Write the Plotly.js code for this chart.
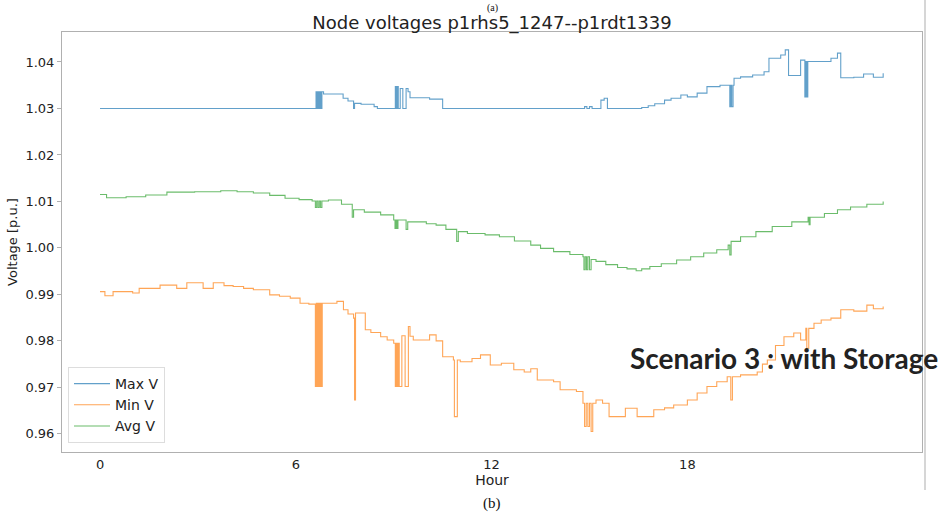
<!DOCTYPE html>
<html>
<head>
<meta charset="utf-8">
<script src="https://cdn.plot.ly/plotly-3.0.1.min.js"></script>
<style>html,body{margin:0;padding:0;background:#fff;}#chart{width:942px;height:512px;}</style>
</head>
<body>
<div id="chart"></div>
<script>
// [hour, voltage p.u.]
const maxV = [
  [0,1.0300],
  [6.62,1.0336],[6.65,1.0300],[6.68,1.0336],[6.71,1.0300],[6.74,1.0336],[6.77,1.0300],[6.80,1.0336],
  [6.85,1.0331],[7.45,1.0322],[7.60,1.0316],[7.77,1.0300],[7.80,1.0311],[8.00,1.0309],[8.40,1.0304],[8.50,1.0300],
  [9.05,1.0347],[9.08,1.0300],[9.11,1.0347],[9.14,1.0300],[9.20,1.0343],[9.28,1.0300],[9.38,1.0343],[9.44,1.0336],[9.50,1.0323],[10.10,1.0320],[10.50,1.0300],
  [14.85,1.0304],[14.92,1.0300],[15.00,1.0304],[15.08,1.0300],[15.35,1.0318],[15.45,1.0322],[15.55,1.0300],
  [16.60,1.0302],[16.80,1.0306],[17.00,1.0310],[17.30,1.0318],[17.50,1.0322],[17.80,1.0329],[18.00,1.0325],[18.30,1.0333],[18.60,1.0347],[19.00,1.0350],
  [19.30,1.0304],[19.33,1.0350],[19.36,1.0304],[19.40,1.0350],[19.43,1.0365],[19.63,1.0368],[20.00,1.0372],[20.35,1.0379],[20.50,1.0408],[20.86,1.0415],[21.00,1.0426],[21.10,1.0371],[21.47,1.0404],
  [21.60,1.0325],[21.63,1.0401],[21.66,1.0325],[21.69,1.0401],[22.40,1.0408],[22.60,1.0419],[22.70,1.0366],[23.10,1.0367],[23.40,1.0374],[23.70,1.0367],[24.00,1.0376]
];
const minV = [
  [0,0.9906],[0.15,0.9897],[0.4,0.9906],[1.0,0.9903],[1.2,0.9913],[1.84,0.9920],[2.35,0.9913],[2.66,0.9925],[3.16,0.9913],[3.47,0.9925],[3.8,0.9919],[4.08,0.9917],[4.4,0.9913],[4.7,0.9910],[5.2,0.9899],[5.5,0.9896],[5.83,0.9892],[6.13,0.9881],[6.4,0.9879],
  [6.60,0.9702],[6.63,0.9881],[6.66,0.9702],[6.69,0.9881],[6.72,0.9702],[6.75,0.9881],[6.78,0.9702],[6.81,0.9881],
  [7.26,0.9885],[7.46,0.9867],[7.6,0.9858],[7.77,0.9849],[7.80,0.9673],[7.83,0.9860],[8.13,0.9824],[8.3,0.9818],[8.6,0.9809],[8.8,0.9802],[9.0,0.9795],
  [9.05,0.9702],[9.08,0.9795],[9.11,0.9702],[9.14,0.9795],[9.17,0.9702],[9.25,0.9811],[9.35,0.9702],[9.45,0.9831],[9.5,0.9810],[9.6,0.9802],[10.1,0.9813],[10.3,0.9800],[10.5,0.9766],[10.83,0.9759],
  [10.86,0.9637],[10.95,0.9759],[11.04,0.9755],[11.4,0.9762],[11.66,0.9770],[11.96,0.9748],[12.3,0.9752],[12.68,0.9738],[13.0,0.9733],[13.2,0.9740],[13.4,0.9716],[13.9,0.9712],[14.1,0.9695],[14.6,0.9691],[14.8,0.9666],
  [14.85,0.9616],[14.9,0.9666],[14.95,0.9616],[15.0,0.9666],[15.05,0.9605],[15.1,0.9666],[15.2,0.9673],[15.4,0.9666],[15.6,0.9637],[16.1,0.9655],[16.46,0.9637],[16.97,0.9652],[17.3,0.9656],[17.58,0.9662],[18.0,0.9673],[18.3,0.9688],[18.6,0.9702],[18.9,0.9712],[19.22,0.9723],
  [19.33,0.9673],[19.38,0.9723],[19.63,0.9727],[20.14,0.9733],[20.3,0.9750],[20.45,0.9759],[20.7,0.9790],[20.96,0.9809],[21.26,0.9817],[21.47,0.9802],[21.63,0.9827],[21.66,0.9784],[21.72,0.9827],[21.88,0.9838],[22.1,0.9845],[22.4,0.9849],[22.7,0.9867],[23.1,0.9864],[23.5,0.9877],[23.7,0.9869],[24.0,0.9874]
];
const avgV = [
  [0,1.0115],[0.2,1.0108],[0.8,1.0110],[1.4,1.0114],[2.05,1.0120],[2.9,1.0121],[3.7,1.0123],[4.2,1.0121],[4.7,1.0118],[5.2,1.0113],[5.67,1.0107],[6.1,1.0104],[6.5,1.0101],
  [6.60,1.0087],[6.64,1.0101],[6.68,1.0087],[6.72,1.0101],[6.76,1.0087],[6.80,1.0101],
  [7.0,1.0103],[7.4,1.0094],[7.73,1.0066],[7.77,1.0082],[8.1,1.0077],[8.6,1.0071],[9.0,1.0060],
  [9.04,1.0042],[9.07,1.0060],[9.10,1.0042],[9.13,1.0060],[9.38,1.0040],[9.43,1.0056],
  [10.0,1.0052],[10.3,1.0049],[10.6,1.0040],[10.93,1.0014],[10.98,1.0035],[11.26,1.0031],[11.8,1.0028],[12.24,1.0024],[12.7,1.0015],[13.2,1.0006],[13.5,0.9999],[13.9,0.9992],[14.4,0.9986],[14.8,0.9981],
  [14.83,0.9953],[14.87,0.9981],[14.91,0.9953],[14.95,0.9981],[15.0,0.9953],[15.05,0.9975],
  [15.2,0.9971],[15.5,0.9964],[15.86,0.9958],[16.15,0.9955],[16.43,0.9951],[16.6,0.9955],[16.85,0.9960],[17.2,0.9966],[17.67,0.9974],[18.1,0.9981],[18.5,0.9989],[18.9,0.9996],[19.25,1.0006],
  [19.30,0.9985],[19.34,1.0014],[19.63,1.0024],[20.1,1.0035],[20.6,1.0046],[21.2,1.0056],[21.7,1.0066],[21.73,1.0050],[21.76,1.0066],[22.2,1.0074],[22.6,1.0082],[23.0,1.0088],[23.5,1.0094],[24.0,1.0100]
];
const seriesNames = ["Max V", "Min V", "Avg V"];
const xTickVals = [0, 6, 12, 18];
const yTickVals = [0.96, 0.97, 0.98, 0.99, 1.00, 1.01, 1.02, 1.03, 1.04];
const yTickText = ["0.96", "0.97", "0.98", "0.99", "1.00", "1.01", "1.02", "1.03", "1.04"];

const colors = ["#1f77b4", "#ff7f0e", "#2ca02c"];
const all = [maxV, minV, avgV];
const traces = all.map((s, i) => ({
  x: s.map(p => p[0]),
  y: s.map(p => p[1]),
  type: "scatter",
  mode: "lines",
  name: seriesNames[i],
  line: {color: colors[i], width: 1.1, shape: "hv"},
  opacity: 0.7
}));

// plot box in pixels
const L = 62, R = 922, T = 32, B = 452, W = 942, H = 512;
const px = x => (x - L) / (R - L);
const py = y => (B - y) / (B - T);
const font = "DejaVu Sans, sans-serif";

const layout = {
  width: W, height: H,
  margin: {l: L, r: W - R, t: T, b: H - B, pad: 0},
  paper_bgcolor: "#ffffff", plot_bgcolor: "#ffffff",
  font: {family: font, color: "#222", size: 13},
  title: {text: "Node voltages p1rhs5_1247--p1rdt1339", font: {family: font, size: 18, color: "#222"},
          x: 0.5, xref: "paper", xanchor: "center", y: 1 - 23 / H, yanchor: "middle"},
  xaxis: {
    range: [-1.165, 25.19], tickvals: xTickVals, ticktext: xTickVals.map(String),
    showgrid: false, zeroline: false, showline: true, mirror: true, linecolor: "#b0b0b0", linewidth: 1,
    ticks: "",
    tickfont: {family: font, size: 13, color: "#222"},
    title: {text: "Hour", font: {family: font, size: 14, color: "#222"}, standoff: 2}
  },
  yaxis: {
    range: [0.9561, 1.04645], tickvals: yTickVals, ticktext: yTickText,
    showgrid: false, zeroline: false, showline: true, mirror: true, linecolor: "#b0b0b0", linewidth: 1,
    ticks: "outside", ticklen: 4, tickcolor: "#b0b0b0",
    tickfont: {family: font, size: 13, color: "#222"},
    title: {text: "Voltage [p.u.]", font: {family: font, size: 13, color: "#222"}, standoff: 4}
  },
  showlegend: true,
  legend: {
    x: px(68), y: py(443), xanchor: "left", yanchor: "bottom",
    bgcolor: "rgba(255,255,255,0.8)", bordercolor: "#dddddd", borderwidth: 1,
    font: {family: font, size: 14, color: "#222"}, itemwidth: 36, tracegroupgap: 0
  },
  shapes: [
    {type: "line", xref: "paper", yref: "paper", x0: px(925), x1: px(925), y0: py(0), y1: py(490),
     line: {color: "#c8c8c8", width: 1.5}}
  ],
  annotations: [
    {text: "Scenario 3 : with Storage", xref: "paper", yref: "paper", x: px(628), y: py(358),
     xanchor: "left", yanchor: "middle", showarrow: false,
     font: {family: "Lato, sans-serif", size: 28, color: "#222", weight: "bold"}},
    {text: "(a)", xref: "paper", yref: "paper", x: px(492), y: py(1), xanchor: "center", yanchor: "top",
     showarrow: false, font: {family: "Liberation Serif, serif", size: 10, color: "#111"}, borderpad: 0},
    {text: "(b)", xref: "paper", yref: "paper", x: px(492), y: py(503), xanchor: "center", yanchor: "middle",
     showarrow: false, font: {family: "Liberation Serif, serif", size: 15, color: "#111"}}
  ]
};

Plotly.newPlot("chart", traces, layout, {staticPlot: true, displayModeBar: false});
</script>
</body>
</html>
